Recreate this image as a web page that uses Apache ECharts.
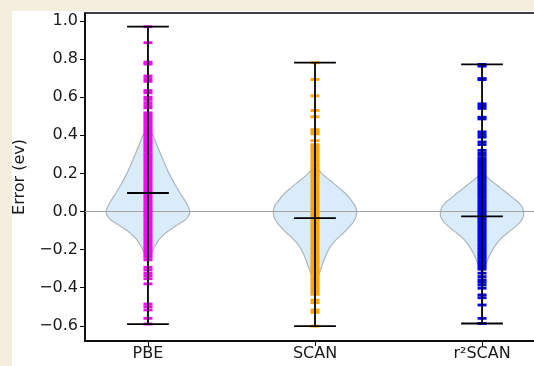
<!DOCTYPE html>
<html>
<head>
<meta charset="utf-8">
<script src="https://cdn.jsdelivr.net/npm/echarts@6/dist/echarts.min.js"></script>
<style>
html, body { margin: 0; padding: 0; width: 534px; height: 366px; overflow: hidden; background: #f4eedf; }
#chart { position: absolute; left: 12px; top: 11px; width: 522px; height: 355px; background: #fff; }
</style>
</head>
<body>
<div id="chart"></div>
<script>
var methods = ['PBE', 'SCAN', 'r²SCAN'];
var positions = [1, 2, 3];
var colors = ['#ff00ff', '#ffa500', '#0000ff'];
var yTicks = [-0.6, -0.4, -0.2, 0.0, 0.2, 0.4, 0.6, 0.8, 1.0];

// min / max / mean bars
var mins = [-0.591, -0.602, -0.588];
var maxs = [0.970, 0.781, 0.772];
var means = [0.097, -0.035, -0.026];

// individual errors (ev)
var pbeErrors = [0.970, 0.886, 0.784, 0.774, 0.711, 0.697, 0.683, 0.635, 0.623, 0.600, 0.588, 0.571, 0.556, 0.544, 0.518,
  0.507, 0.496, 0.486, 0.473, 0.463, 0.451, 0.440, 0.428, 0.419, 0.405, 0.396, 0.383, 0.372, 0.361, 0.350, 0.338,
  0.327, 0.316, 0.303, 0.292, 0.281, 0.270, 0.258, 0.247, 0.236, 0.224, 0.213, 0.202, 0.190, 0.179, 0.168, 0.157,
  0.145, 0.134, 0.122, 0.111, 0.100, 0.089, 0.077, 0.066, 0.054, 0.043, 0.032, 0.020, 0.009, -0.002, -0.014, -0.025,
  -0.036, -0.048, -0.059, -0.070, -0.082, -0.093, -0.104, -0.116, -0.127, -0.138, -0.150, -0.161, -0.172, -0.184,
  -0.195, -0.206, -0.218, -0.229, -0.240,
  -0.254, -0.293, -0.307, -0.324, -0.337, -0.353, -0.380, -0.486, -0.500, -0.517, -0.561, -0.591];
var scanErrors = [0.781, 0.693, 0.607, 0.530, 0.497, 0.430, 0.418, 0.407, 0.372, 0.351,
  0.341, 0.330, 0.319, 0.308, 0.296, 0.285, 0.274, 0.263, 0.251, 0.240, 0.229, 0.218, 0.206, 0.195, 0.184, 0.173,
  0.161, 0.150, 0.139, 0.128, 0.116, 0.105, 0.094, 0.083, 0.071, 0.060, 0.049, 0.038, 0.026, 0.015, 0.004, -0.007,
  -0.019, -0.030, -0.041, -0.052, -0.064, -0.075, -0.086, -0.097, -0.109, -0.120, -0.131, -0.142, -0.154, -0.165,
  -0.176, -0.187, -0.199, -0.210, -0.221, -0.232, -0.244, -0.255, -0.266, -0.277, -0.289, -0.300, -0.311, -0.322,
  -0.334, -0.345, -0.356, -0.367, -0.379, -0.390, -0.401, -0.412, -0.424, -0.435,
  -0.465, -0.479, -0.517, -0.530, -0.602];
var r2scanErrors = [0.772, 0.763, 0.698, 0.692, 0.565, 0.553, 0.541, 0.495, 0.486, 0.418, 0.404, 0.390, 0.365, 0.351,
  0.321, 0.307, 0.295, 0.281,
  0.271, 0.260, 0.249, 0.237, 0.226, 0.215, 0.204, 0.192, 0.181, 0.170, 0.159, 0.147, 0.136, 0.125, 0.114, 0.102,
  0.091, 0.080, 0.069, 0.057, 0.046, 0.035, 0.024, 0.012, 0.001, -0.010, -0.021, -0.033, -0.044, -0.055, -0.066,
  -0.078, -0.089, -0.100, -0.111, -0.123, -0.134, -0.145, -0.156, -0.168, -0.179, -0.190, -0.201, -0.213, -0.224,
  -0.235, -0.246, -0.258, -0.269, -0.280, -0.291, -0.303,
  -0.324, -0.342, -0.359, -0.372, -0.386, -0.403, -0.438, -0.453, -0.491, -0.561, -0.588];

// violin outlines: error value and half width (x units)
var pbeViolinY = [0.474, 0.44, 0.40, 0.34, 0.272, 0.20, 0.140, 0.097, 0.05, 0.02, 0.0, -0.02, -0.045, -0.075, -0.105, -0.135, -0.166, -0.20, -0.23, -0.245];
var pbeViolinW = [0, 0.012, 0.030, 0.058, 0.090, 0.126, 0.162, 0.192, 0.226, 0.244, 0.25, 0.245, 0.222, 0.168, 0.118, 0.080, 0.052, 0.032, 0.014, 0];
var scanViolinY = [0.255, 0.23, 0.2, 0.175, 0.15, 0.12, 0.097, 0.06, 0.03, 0.0, -0.03, -0.06, -0.09, -0.114, -0.14, -0.166, -0.20, -0.25, -0.30, -0.342, -0.395];
var scanViolinW = [0, 0.014, 0.040, 0.072, 0.108, 0.150, 0.180, 0.216, 0.240, 0.25, 0.244, 0.226, 0.196, 0.168, 0.136, 0.108, 0.082, 0.056, 0.036, 0.018, 0];
var r2scanViolinY = [0.21, 0.18, 0.15, 0.12, 0.097, 0.07, 0.044, 0.02, -0.017, -0.04, -0.061, -0.09, -0.114, -0.14, -0.166, -0.20, -0.24, -0.28, -0.324];
var r2scanViolinW = [0, 0.030, 0.072, 0.114, 0.150, 0.186, 0.222, 0.242, 0.25, 0.24, 0.222, 0.186, 0.150, 0.116, 0.090, 0.064, 0.040, 0.022, 0];

var allErrors = [pbeErrors, scanErrors, r2scanErrors];
var violinYs = [pbeViolinY, scanViolinY, r2scanViolinY];
var violinWs = [pbeViolinW, scanViolinW, r2scanViolinW];

var myChart = echarts.init(document.getElementById('chart'));

function violin(i) {
    return {
        type: 'custom', z: 2, silent: true, clip: false,
        data: [[positions[i], 0]],
        renderItem: function (params, api) {
            var ys = violinYs[i], ws = violinWs[i], p = positions[i];
            var right = [], left = [];
            for (var k = 0; k < ys.length; k++) {
                right.push(api.coord([p + ws[k], ys[k]]));
                left.unshift(api.coord([p - ws[k], ys[k]]));
            }
            return {
                type: 'polygon',
                shape: { points: right.concat(left), smooth: 0.2 },
                style: { fill: '#d8ecf9', stroke: '#aeb6bc', lineWidth: 1.2 }
            };
        }
    };
}

var series = [];
for (var i = 0; i < 3; i++) series.push(violin(i));

// zero line across the plot
series.push({
    type: 'custom', z: 3, silent: true,
    data: [[positions[0], 0]],
    renderItem: function (params, api) {
        var cs = params.coordSys;
        var y = Math.round(api.coord([positions[0], 0])[1]) + 0.5;
        return {
            type: 'line',
            shape: { x1: cs.x, y1: y, x2: cs.x + cs.width, y2: y },
            style: { stroke: '#a3a3a3', lineWidth: 1.2 }
        };
    }
});

for (var i = 0; i < 3; i++) {
    series.push({
        type: 'scatter', z: 4, silent: true,
        symbol: 'rect', symbolSize: [9, 2.8],
        itemStyle: { color: colors[i], opacity: 1 },
        data: allErrors[i].map(function (v) { return [positions[this.i], v]; }, { i: i })
    });
}

// min, max and mean bars
series.push({
    type: 'custom', z: 5, silent: true, clip: false,
    data: positions.map(function (p, i) { return [p, mins[i], maxs[i], means[i]]; }),
    renderItem: function (params, api) {
        var p = api.value(0), lo = api.value(1), hi = api.value(2), mu = api.value(3);
        var cap = 0.125;
        var st = { stroke: '#000', lineWidth: 1.8 };
        function seg(x1, y1, x2, y2) {
            var a = api.coord([x1, y1]), b = api.coord([x2, y2]);
            return { type: 'line', shape: { x1: a[0], y1: a[1], x2: b[0], y2: b[1] }, style: st };
        }
        return {
            type: 'group',
            children: [
                seg(p, lo, p, hi),
                seg(p - cap, lo, p + cap, lo),
                seg(p - cap, hi, p + cap, hi),
                seg(p - cap, mu, p + cap, mu)
            ]
        };
    }
});

var option = {
    animation: false,
    textStyle: { fontFamily: 'DejaVu Sans' },
    grid: {
        left: 73, top: 2, right: -11, bottom: 25, outerBoundsMode: 'none', containLabel: false,
        show: true, borderColor: '#000', borderWidth: 1.5
    },
    xAxis: {
        type: 'value', min: 0.623, max: 3.377,
        splitLine: { show: false },
        axisLine: { onZero: false, lineStyle: { color: '#000', width: 1.5 } },
        axisTick: { customValues: positions, length: 5, lineStyle: { color: '#000', width: 1 } },
        axisLabel: {
            customValues: positions, margin: 5, fontSize: 16, color: '#1a1a1a',
            formatter: function (v) { return methods[positions.indexOf(v)]; }
        }
    },
    yAxis: {
        type: 'value', min: -0.68, max: 1.042,
        name: 'Error (ev)', nameLocation: 'middle', nameGap: 54,
        nameTextStyle: { fontSize: 16, color: '#1a1a1a', fontFamily: 'DejaVu Sans' },
        splitLine: { show: false },
        axisLine: { show: true, onZero: false, lineStyle: { color: '#000', width: 1.5 } },
        axisTick: { show: true, customValues: yTicks, length: 5, lineStyle: { color: '#000', width: 1 } },
        axisLabel: {
            customValues: yTicks, margin: 7, fontSize: 16, color: '#1a1a1a',
            formatter: function (v) { return v.toFixed(1).replace('-', '\u2212'); }
        }
    },
    series: series
};

myChart.setOption(option);
</script>
</body>
</html>
